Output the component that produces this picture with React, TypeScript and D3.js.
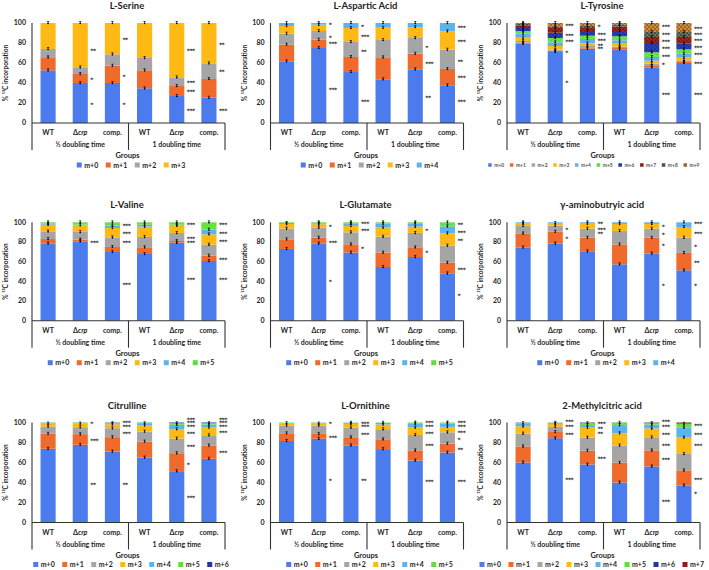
import React from "react";
import * as d3 from "d3";

const strains = ["WT", "Δcrp", "comp."];
const timeGroups = ["½ doubling time", "1 doubling time"];
const isotopologues = ["m+0", "m+1", "m+2", "m+3", "m+4", "m+5", "m+6", "m+7", "m+8", "m+9"];
const tickValues = [0, 20, 40, 60, 80, 100];
const isoColors = ["#4B7BEC", "#F06A2C", "#A5A5A5", "#FFB915", "#5BB4F0", "#5EE03C", "#1F35A5", "#8E1B12", "#4A4F44", "#9C6526"];

// bars: WT½, Δcrp½, comp½, WT1, Δcrp1, comp1 ; columns: m+0 ... m+n
const serineValues = [
  [52.7, 13.0, 8.3, 26.0],
  [40.0, 9.0, 6.7, 44.3],
  [40.0, 17.3, 11.4, 31.3],
  [34.7, 18.0, 12.3, 35.0],
  [27.0, 10.0, 8.7, 54.3],
  [25.3, 18.7, 15.7, 40.3],
];
const serineStars = [
  [1, 73, "**"], [1, 44, "*"], [1, 19, "*"],
  [2, 84, "**"], [2, 47, "*"], [2, 19, "*"],
  [4, 73, "***"], [4, 41, "***"], [4, 32, "***"], [4, 13, "***"],
  [5, 79, "**"], [5, 52, "**"], [5, 13, "***"],
];

const asparticValues = [
  [61.7, 16.6, 11.0, 7.7, 3.0],
  [75.0, 8.3, 8.7, 6.3, 1.7],
  [51.0, 15.0, 15.0, 14.0, 5.0],
  [43.7, 22.0, 17.3, 12.3, 4.7],
  [53.7, 15.6, 15.7, 11.0, 4.0],
  [37.7, 16.3, 19.3, 18.4, 8.3],
];
const asparticStars = [
  [1, 99.3, "*"], [1, 86.7, "*"], [1, 80, "***"], [1, 34.3, "***"],
  [2, 97.7, "*"], [2, 87.7, "***"], [2, 72, "**"], [2, 22, "***"],
  [4, 76, "*"], [4, 60.3, "***"], [4, 26.7, "**"],
  [5, 96, "***"], [5, 82, "***"], [5, 62, "**"], [5, 46, "***"], [5, 22.7, "***"],
];

const tyrosineValues = [
  [79.3, 1.0, 1.7, 3.3, 4.0, 2.7, 3.0, 2.7, 1.3, 1.0],
  [71.0, 1.3, 1.0, 3.7, 3.7, 4.3, 5.3, 4.7, 1.7, 3.3],
  [74.3, 1.4, 1.3, 2.7, 4.3, 3.3, 4.7, 3.0, 2.0, 3.0],
  [73.7, 1.3, 1.3, 3.0, 3.4, 4.0, 5.3, 4.3, 2.4, 1.3],
  [55.7, 1.3, 2.3, 3.0, 3.7, 4.7, 9.3, 6.0, 5.0, 9.0],
  [60.0, 1.0, 1.7, 2.6, 4.0, 4.4, 5.6, 6.7, 5.0, 9.0],
];
const tyrosineStars = [
  [1, 98, "***"], [1, 88, "***"], [1, 82.7, "***"], [1, 71, "*"], [1, 41, "*"],
  [2, 97.7, "*"], [2, 89.3, "***"], [2, 83.7, "***"], [2, 78.3, "**"], [2, 75, "**"],
  [4, 97.7, "***"], [4, 89, "***"], [4, 82.3, "***"], [4, 75, "***"], [4, 67.7, "***"], [4, 59.3, "*"], [4, 29.3, "***"],
  [5, 95.3, "***"], [5, 89.3, "***"], [5, 83.3, "***"], [5, 76, "***"], [5, 69.3, "***"], [5, 60, "***"], [5, 29.3, "***"],
];

const valineValues = [
  [78.6, 4.4, 7.8, 6.8, 1.0, 1.4],
  [80.7, 1.7, 7.8, 6.8, 0.6, 2.4],
  [69.8, 5.1, 9.8, 9.5, 2.4, 3.4],
  [67.8, 6.8, 10.5, 10.5, 2.0, 2.4],
  [79.3, 1.7, 8.2, 7.4, 1.0, 2.4],
  [60.7, 5.4, 11.2, 10.5, 4.7, 7.5],
];
const valineStars = [
  [1, 80.3, "***"],
  [2, 97.5, "***"], [2, 89.8, "***"], [2, 79.7, "***"], [2, 37.3, "***"],
  [4, 98, "***"], [4, 84.7, "***"], [4, 79.7, "***"], [4, 42.4, "***"],
  [5, 98, "***"], [5, 89.8, "***"], [5, 81.4, "***"], [5, 62.7, "***"], [5, 42.4, "***"],
];

const glutamateValues = [
  [72.9, 9.8, 10.9, 4.7, 1.0, 0.7],
  [78.6, 5.8, 10.2, 3.4, 1.0, 1.0],
  [69.2, 8.4, 12.2, 6.5, 2.7, 1.0],
  [54.6, 14.6, 16.2, 9.2, 4.0, 1.4],
  [64.7, 9.9, 14.6, 6.4, 3.4, 1.0],
  [48.1, 10.9, 17.3, 12.5, 7.1, 4.1],
];
const glutamateStars = [
  [1, 96.6, "*"], [1, 80, "***"], [1, 40.7, "*"],
  [2, 99, "***"], [2, 92.5, "***"], [2, 73.6, "*"],
  [4, 91.9, "*"], [4, 69.8, "*"],
  [5, 98.3, "**"], [5, 90.8, "***"], [5, 82, "**"], [5, 52.5, "***"], [5, 26.1, "*"],
];

const gabaValues = [
  [74.4, 14.3, 7.5, 2.8, 1.0],
  [78.5, 11.9, 6.2, 2.7, 0.7],
  [70.6, 13.7, 9.2, 5.1, 1.4],
  [57.3, 20.2, 13.6, 7.2, 1.7],
  [68.3, 16.0, 9.2, 4.8, 1.7],
  [51.2, 17.7, 15.4, 10.9, 4.8],
];
const gabaStars = [
  [1, 93.9, "*"], [1, 84.6, "*"],
  [2, 99, "**"], [2, 93.9, "***"], [2, 89.1, "**"],
  [4, 96.6, "*"], [4, 88.7, "*"], [4, 76.8, "*"], [4, 36.9, "*"],
  [5, 99, "***"], [5, 89.8, "***"], [5, 75.8, "*"], [5, 60.1, "**"], [5, 36.9, "*"],
];

const citrullineValues = [
  [73.7, 15.0, 7.3, 3.0, 0.7, 0.2, 0.1],
  [77.7, 10.6, 7.0, 3.7, 0.3, 0.6, 0.1],
  [71.0, 14.3, 9.0, 4.0, 1.0, 0.4, 0.3],
  [65.0, 16.0, 10.0, 6.0, 2.3, 0.5, 0.2],
  [51.3, 18.0, 14.7, 9.3, 4.4, 1.6, 0.7],
  [63.7, 13.3, 10.3, 7.7, 3.0, 1.3, 0.7],
];
const citrullineStars = [
  [1, 100, "*"], [1, 82.7, "***"], [1, 38.3, "**"],
  [2, 100.3, "***"], [2, 97, "***"], [2, 90, "***"], [2, 38.3, "**"],
  [4, 103.7, "***"], [4, 100.3, "***"], [4, 96.7, "***"], [4, 90, "***"], [4, 76.7, "***"], [4, 58.3, "*"], [4, 25.3, "***"],
  [5, 103.7, "***"], [5, 100.3, "***"], [5, 97, "***"], [5, 91, "***"], [5, 71, "***"],
];

const ornithineValues = [
  [81.5, 7.7, 7.8, 2.3, 0.4, 0.3],
  [83.8, 4.8, 8.4, 2.0, 0.6, 0.4],
  [77.1, 8.1, 9.7, 3.8, 1.0, 0.3],
  [73.4, 9.8, 10.1, 4.7, 1.7, 0.3],
  [62.0, 10.1, 15.4, 7.4, 3.8, 1.3],
  [70.0, 8.8, 11.4, 5.4, 3.4, 1.0],
];
const ornithineStars = [
  [1, 99.3, "*"], [1, 85.9, "***"], [1, 42.8, "*"],
  [2, 99.7, "***"], [2, 96.3, "***"], [2, 88.6, "***"], [2, 42.8, "**"],
  [4, 101, "***"], [4, 96.3, "***"], [4, 90.2, "***"], [4, 77.8, "***"], [4, 41.4, "***"],
  [5, 101, "***"], [5, 96.3, "***"], [5, 91.2, "***"], [5, 83.5, "*"], [5, 73.4, "**"], [5, 41.4, "***"],
];

const methylcitricValues = [
  [60.0, 16.1, 12.8, 7.2, 3.2, 0.4, 0.2, 0.1],
  [84.3, 6.2, 5.2, 3.0, 1.0, 0.2, 0.05, 0.05],
  [58.0, 13.8, 13.1, 9.9, 2.6, 1.9, 0.4, 0.3],
  [40.0, 19.7, 17.3, 12.2, 8.2, 2.3, 0.2, 0.1],
  [56.1, 16.0, 13.1, 8.9, 3.9, 1.3, 0.4, 0.3],
  [37.0, 15.1, 16.4, 16.4, 10.2, 3.6, 0.6, 0.7],
];
const methylcitricStars = [
  [1, 101.6, "***"], [1, 96.4, "***"], [1, 88.5, "***"], [1, 43.9, "***"],
  [2, 100, "***"], [2, 94.8, "**"], [2, 89.8, "**"], [2, 65.2, "***"],
  [4, 101.6, "***"], [4, 96.4, "***"], [4, 89.2, "***"], [4, 77.7, "***"], [4, 63.6, "***"], [4, 21.3, "***"],
  [5, 97.4, "***"], [5, 89.2, "***"], [5, 77.7, "***"], [5, 43.9, "***"], [5, 30.2, "*"],
];

const panels = [
  { title: "L-Serine", values: serineValues, stars: serineStars },
  { title: "L-Aspartic Acid", values: asparticValues, stars: asparticStars },
  { title: "L-Tyrosine", values: tyrosineValues, stars: tyrosineStars },
  { title: "L-Valine", values: valineValues, stars: valineStars },
  { title: "L-Glutamate", values: glutamateValues, stars: glutamateStars },
  { title: "γ-aminobutryic acid", values: gabaValues, stars: gabaStars },
  { title: "Citrulline", values: citrullineValues, stars: citrullineStars },
  { title: "L-Ornithine", values: ornithineValues, stars: ornithineStars },
  { title: "2-Methylcitric acid", values: methylcitricValues, stars: methylcitricStars },
];

const COL_X = [32, 270.5, 507];
const ROW_TOP = [23, 222.3, 422.5];
const ROW_BOTTOM = [123, 320.7, 522.5];
const PLOT_W = 193;
const FONT = "Lato, 'Open Sans', 'DejaVu Sans', sans-serif";
const STAR_FONT = "'DejaVu Sans', sans-serif";
const TXT = "#1f1f1f";

function fillFor(k: number) {
  return k >= 5 ? `url(#pat${k})` : isoColors[k];
}

function Panel({ p, idx }: { p: any; idx: number }) {
  const col = idx % 3;
  const row = Math.floor(idx / 3);
  const x0 = COL_X[col];
  const top = ROW_TOP[row];
  const bottom = ROW_BOTTOM[row];
  const y = d3.scaleLinear().domain([0, 100]).range([bottom, top]);
  const x = d3
    .scaleBand<number>()
    .domain(d3.range(6))
    .range([x0, x0 + PLOT_W])
    .paddingInner(0.53)
    .paddingOuter(0.265);
  const n = p.values[0].length;
  const keys = d3.range(n);
  const series = d3
    .stack<number[], number>()
    .keys(keys)
    .value((d, k) => d[k])(p.values);
  const bw = x.bandwidth();
  const step = x.step();
  const cx = x0 + PLOT_W / 2;

  // legend
  const small = n >= 10;
  const stride = small ? 21.7 : 29;
  const sq = small ? 3.5 : 5;
  const lfs = small ? 5 : 7;
  const textW = small ? 9.5 : 13;
  const total = (n - 1) * stride + sq + 2.5 + textW;
  let lStart = cx + 2 - total / 2;
  const lMax = x0 + PLOT_W + (small ? -1 : 3);
  if (lStart + total > lMax) lStart = lMax - total;
  const ly = bottom + 42;

  return (
    <g>
      <text x={cx - 1.5} y={top - 14} textAnchor="middle" fontFamily={FONT} fontWeight="bold" fontSize={9.5} fill={TXT}>
        {p.title}
      </text>
      <text
        transform={`translate(${x0 - 24},${(top + bottom) / 2}) rotate(-90)`}
        textAnchor="middle"
        fontFamily={FONT}
        fontWeight="bold"
        fontSize={6.5}
        fill={TXT}
      >
        % ¹³C incorporation
      </text>
      {tickValues.map((t) => (
        <text key={t} x={x0 - 6} y={y(t) + 2.4} textAnchor="end" fontFamily={FONT} fontWeight="bold" fontSize={7} fill={TXT}>
          {t}
        </text>
      ))}
      {series.map((s, k) => (
        <g key={k}>
          {s.map((d, i) => (
            <rect key={i} x={x(i)} y={y(d[1])} width={bw} height={Math.max(0, y(d[0]) - y(d[1]))} fill={fillFor(k)} />
          ))}
        </g>
      ))}
      {series.map((s, k) => (
        <g key={"e" + k}>
          {s.map((d, i) => {
            if (d[1] - d[0] < 1) return null;
            const xc = (x(i) as number) + bw / 2;
            const yt = y(d[1]);
            return (
              <g key={i}>
                <path d={`M${xc},${yt - 1.5}V${yt + 1}M${xc - 1.1},${yt - 1.5}H${xc + 1.1}`} fill="none" stroke="#000" strokeWidth={0.7} />
                <circle cx={xc} cy={yt + 0.5} r={0.8} fill="#000" />
              </g>
            );
          })}
        </g>
      ))}
      {p.stars.map((st: any, j: number) => (
        <text
          key={"s" + j}
          x={(x(st[0]) as number) + bw + 2.5}
          y={y(st[1]) + 3.2}
          fontFamily={STAR_FONT}
          fontWeight="bold"
          fontSize={6}
          fill={TXT}
          letterSpacing={-0.5}
        >
          {st[2]}
        </text>
      ))}
      <g stroke="#333" strokeWidth={1.1} fill="none">
        <line x1={x0} x2={x0 + PLOT_W} y1={bottom} y2={bottom} />
        <line x1={x0} x2={x0} y1={top} y2={bottom + 27} />
        <line x1={x0 + 3 * step} x2={x0 + 3 * step} y1={bottom} y2={bottom + 27} />
        <line x1={x0 + PLOT_W} x2={x0 + PLOT_W} y1={bottom} y2={bottom + 27} />
      </g>
      {d3.range(6).map((i) => {
        const s = strains[i % 3];
        const xc = (x(i) as number) + bw / 2;
        return (
          <text key={"c" + i} x={xc} y={bottom + 12} textAnchor="middle" fontFamily={FONT} fontWeight="bold" fontSize={7} fill={TXT}>
            {s === "Δcrp" ? (
              <>
                <tspan>Δ</tspan>
                <tspan fontStyle="italic">crp</tspan>
              </>
            ) : (
              s
            )}
          </text>
        );
      })}
      {timeGroups.map((g, gi) => (
        <text
          key={g}
          x={(x(gi * 3 + 1) as number) + bw / 2}
          y={bottom + 24}
          textAnchor="middle"
          fontFamily={FONT}
          fontWeight="bold"
          fontSize={7}
          fill={TXT}
        >
          {g}
        </text>
      ))}
      <text x={cx - 1} y={bottom + 35} textAnchor="middle" fontFamily={FONT} fontWeight="bold" fontSize={7.5} fill={TXT}>
        Groups
      </text>
      {keys.map((k) => (
        <g key={"l" + k} transform={`translate(${lStart + k * stride},${ly})`}>
          <rect x={0} y={-sq / 2} width={sq} height={sq} fill={isoColors[k]} />
          <text x={sq + 2.5} y={lfs * 0.36} fontFamily={FONT} fontWeight="bold" fontSize={lfs} fill={small ? "#555" : TXT}>
            {isotopologues[k]}
          </text>
        </g>
      ))}
    </g>
  );
}

export default function App() {
  return (
    <svg
      width={709}
      height={570}
      viewBox="0 0 709 570"
      style={{ position: "absolute", left: 0, top: 0, background: "#fff" }}
    >
      <defs>
        <pattern id="pat5" width={4} height={4} patternUnits="userSpaceOnUse">
          <rect width={4} height={4} fill={isoColors[5]} />
          <circle cx={1} cy={1} r={0.5} fill="#B8F5A6" />
          <circle cx={3} cy={3} r={0.5} fill="#B8F5A6" />
        </pattern>
        <pattern id="pat6" width={4} height={4} patternUnits="userSpaceOnUse">
          <rect width={4} height={4} fill={isoColors[6]} />
          <circle cx={1} cy={1} r={0.5} fill="#5C70D8" />
          <circle cx={3} cy={3} r={0.5} fill="#5C70D8" />
        </pattern>
        <pattern id="pat7" width={4} height={4} patternUnits="userSpaceOnUse">
          <rect width={4} height={4} fill={isoColors[7]} />
          <circle cx={1} cy={1} r={0.5} fill="#C8503A" />
          <circle cx={3} cy={3} r={0.5} fill="#C8503A" />
        </pattern>
        <pattern id="pat8" width={4} height={4} patternUnits="userSpaceOnUse">
          <rect width={4} height={4} fill={isoColors[8]} />
          <rect width={2} height={2} fill="#6E7560" />
          <rect x={2} y={2} width={2} height={2} fill="#6E7560" />
        </pattern>
        <pattern id="pat9" width={4} height={4} patternUnits="userSpaceOnUse">
          <rect width={4} height={4} fill={isoColors[9]} />
          <rect width={2} height={2} fill="#D38B3C" />
          <rect x={2} y={2} width={2} height={2} fill="#D38B3C" />
        </pattern>
      </defs>
      <rect width={709} height={570} fill="#fff" />
      {panels.map((p, i) => (
        <Panel key={p.title} p={p} idx={i} />
      ))}
    </svg>
  );
}
